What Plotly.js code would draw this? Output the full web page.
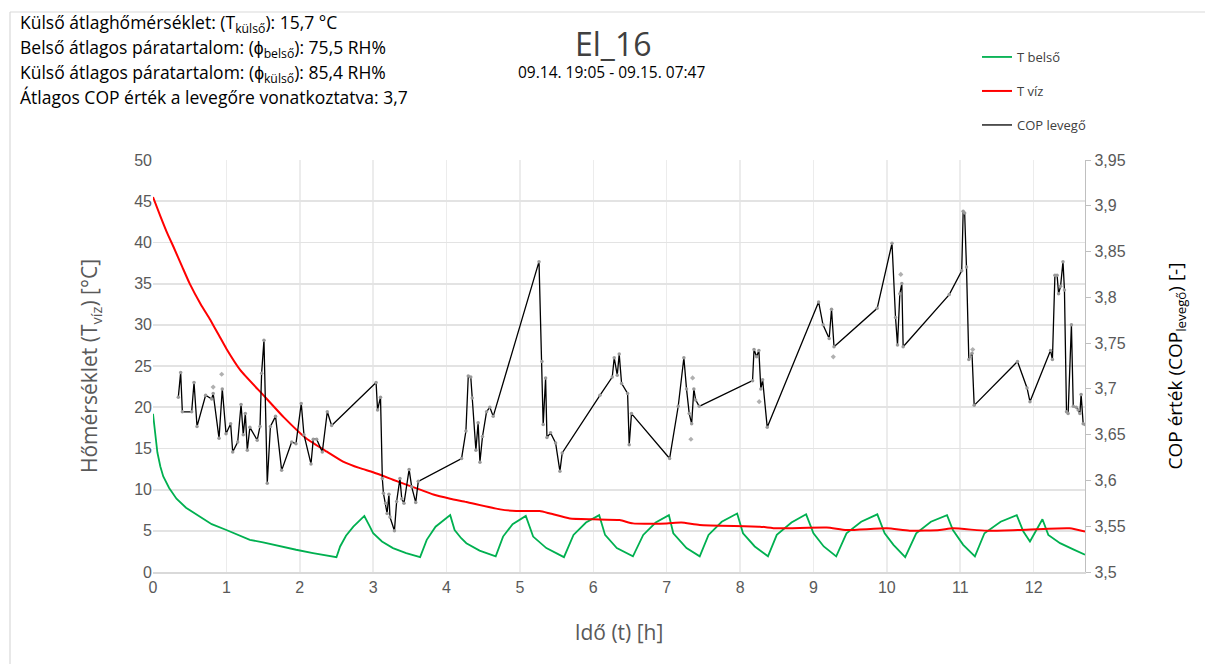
<!DOCTYPE html>
<html>
<head>
<meta charset="utf-8">
<script src="https://cdn.plot.ly/plotly-3.0.1.min.js"></script>
<style>html,body{margin:0;padding:0;background:#fff;}#chart{width:1205px;height:664px;}</style>
</head>
<body>
<div id="chart"></div>
<script>
// ---- data ----
const tBelsoX = [0,0.02,0.04,0.06,0.1,0.14,0.22,0.32,0.45,0.64,0.8,1.0,1.15,1.32,1.5,1.73,1.95,2.18,2.5,2.55,2.63,2.73,2.88,2.95,3.0,3.12,3.27,3.45,3.64,3.73,3.85,4.05,4.11,4.2,4.27,4.45,4.67,4.77,4.9,5.08,5.18,5.36,5.6,5.73,5.9,6.08,6.16,6.32,6.54,6.68,6.85,7.03,7.09,7.27,7.45,7.57,7.75,7.96,8.04,8.2,8.38,8.5,8.7,8.9,9.0,9.14,9.31,9.45,9.65,9.87,9.97,10.09,10.25,10.4,10.6,10.82,10.9,11.04,11.2,11.33,11.55,11.77,11.86,11.95,12.05,12.12,12.2,12.36,12.54,12.7];
const tBelsoY = [19.2,17.4,15.8,14.5,12.8,11.6,10.2,8.9,7.8,6.7,5.8,5.1,4.5,3.9,3.6,3.1,2.7,2.3,1.8,3.1,4.4,5.5,6.8,5.6,4.7,3.7,2.9,2.3,1.8,3.9,5.5,6.9,5.1,4.1,3.5,2.6,1.9,4.3,5.8,6.8,4.3,2.9,1.8,4.5,6.0,6.9,4.5,2.9,1.9,4.5,6.0,6.9,4.7,2.9,1.9,4.5,6.1,7.1,4.7,3.1,1.9,4.5,6.0,7.0,4.7,3.1,1.9,4.7,6.1,7.0,4.7,3.3,1.8,4.7,6.1,6.9,5.1,3.3,1.9,4.7,6.1,6.9,4.9,3.7,5.3,6.4,4.5,3.5,2.75,2.1];

const tVizX = [0,0.1,0.2,0.277,0.4,0.5,0.65,0.78,0.9,1.0,1.19,1.5,1.78,2.09,2.37,2.59,2.82,3.0,3.27,3.45,3.64,3.82,4.05,4.27,4.73,4.95,5.27,5.41,5.68,6.0,6.36,6.54,7.0,7.2,7.45,8.27,8.5,9.18,9.45,10.0,10.31,10.72,10.9,11.36,11.8,12.49,12.7];
const tVizY = [45.5,43.2,41.0,39.5,37.0,35.0,32.5,30.6,28.7,27.1,24.5,21.5,18.8,16.2,14.6,13.4,12.6,12.1,11.2,10.6,10.0,9.4,8.9,8.5,7.6,7.4,7.4,7.1,6.5,6.4,6.3,5.9,5.9,6.0,5.7,5.5,5.3,5.4,5.1,5.3,5.0,5.1,5.3,5.0,5.1,5.3,4.9];

const copX = [0.345,0.377,0.40,0.527,0.559,0.60,0.717,0.80,0.82,0.90,0.944,0.995,1.058,1.086,1.154,1.20,1.23,1.258,1.285,1.32,1.42,1.458,1.48,1.512,1.557,1.60,1.67,1.753,1.89,1.948,2.02,2.057,2.153,2.184,2.23,2.307,2.375,2.434,3.04,3.06,3.10,3.125,3.14,3.17,3.19,3.215,3.229,3.29,3.32,3.365,3.39,3.42,3.49,3.525,3.58,3.615,4.205,4.264,4.296,4.33,4.35,4.40,4.43,4.455,4.49,4.545,4.59,4.636,5.26,5.30,5.317,5.35,5.368,5.418,5.486,5.545,5.576,6.09,6.258,6.285,6.326,6.353,6.385,6.467,6.489,6.52,7.04,7.157,7.234,7.27,7.307,7.34,7.37,7.394,7.443,8.17,8.19,8.225,8.256,8.283,8.307,8.37,9.07,9.13,9.214,9.246,9.28,9.868,10.07,10.118,10.145,10.177,10.204,10.222,10.85,11.02,11.04,11.06,11.085,11.117,11.14,11.16,11.19,11.78,11.91,11.95,12.23,12.256,12.29,12.32,12.34,12.367,12.40,12.42,12.448,12.47,12.515,12.54,12.58,12.607,12.63,12.647,12.675,12.70];
const copY = [3.691,3.718,3.675,3.675,3.707,3.659,3.693,3.689,3.695,3.646,3.700,3.651,3.662,3.631,3.642,3.683,3.650,3.673,3.633,3.658,3.644,3.659,3.717,3.753,3.597,3.659,3.670,3.611,3.642,3.640,3.684,3.650,3.618,3.645,3.645,3.631,3.675,3.660,3.707,3.677,3.691,3.602,3.586,3.575,3.564,3.585,3.560,3.545,3.577,3.602,3.580,3.575,3.612,3.593,3.576,3.599,3.624,3.654,3.714,3.713,3.690,3.633,3.663,3.620,3.648,3.675,3.680,3.670,3.839,3.730,3.661,3.712,3.647,3.652,3.641,3.610,3.630,3.693,3.713,3.734,3.715,3.738,3.706,3.695,3.639,3.673,3.624,3.681,3.734,3.700,3.673,3.662,3.700,3.688,3.681,3.709,3.743,3.735,3.742,3.700,3.710,3.658,3.795,3.770,3.755,3.787,3.746,3.788,3.859,3.778,3.748,3.804,3.815,3.746,3.803,3.829,3.894,3.892,3.833,3.732,3.735,3.739,3.682,3.730,3.701,3.686,3.742,3.732,3.824,3.824,3.804,3.812,3.839,3.808,3.675,3.673,3.770,3.681,3.680,3.677,3.673,3.694,3.662,3.661];

const copOutX = [0.936,0.82,7.353,7.33,8.26,9.27,10.19,11.17];
const copOutY = [3.716,3.702,3.712,3.645,3.686,3.735,3.825,3.743];

const infoLines = [
  'Külső átlaghőmérséklet: (T<sub>külső</sub>): 15,7 °C',
  'Belső átlagos páratartalom: (ϕ<sub>belső</sub>): 75,5 RH%',
  'Külső átlagos páratartalom: (ϕ<sub>külső</sub>): 85,4 RH%',
  'Átlagos COP érték a levegőre vonatkoztatva: 3,7'
];
const titleText = 'El_16';
const subtitleText = '09.14. 19:05 - 09.15. 07:47';

// ---- layout helpers (pixel -> paper) ----
const W = 1205, H = 664;
const L = 153, R = 1085, T = 160, B = 572;
const px = x => (x - L) / (R - L);
const py = y => (B - y) / (B - T);

const traces = [
  {x: tBelsoX, y: tBelsoY, name: 'T belső', mode: 'lines', line: {color: '#00B050', width: 1.8}, legend: 'legend'},
  {x: tVizX, y: tVizY, name: 'T víz', mode: 'lines', line: {color: '#FF0000', width: 2, shape: 'spline', smoothing: 0.5}, legend: 'legend2'},
  {x: copOutX, y: copOutY, mode: 'markers', yaxis: 'y2', showlegend: false, marker: {color: '#b0b0b0', size: 4, symbol: 'diamond'}},
  {x: copX, y: copY, name: 'COP levegő', mode: 'lines', yaxis: 'y2', line: {color: '#000000', width: 1.3}, legend: 'legend3'},
  {x: copX, y: copY, mode: 'markers', yaxis: 'y2', showlegend: false, marker: {color: '#9a9a9a', size: 3.5}}
];

const legendBase = {xanchor: 'left', yanchor: 'middle', bgcolor: 'rgba(0,0,0,0)', itemwidth: 30,
  font: {family: 'Open Sans, sans-serif', size: 13, color: '#404040'}};

const annotations = infoLines.map((t, i) => ({
  text: t, xref: 'paper', yref: 'paper', x: px(18), y: py(24 + i * 24.5), xanchor: 'left', yanchor: 'middle',
  showarrow: false, font: {family: 'Open Sans, sans-serif', size: 17.5, color: '#000'}
}));
annotations.push({text: titleText, xref: 'paper', yref: 'paper', x: px(613), y: py(43), xanchor: 'center', yanchor: 'middle', showarrow: false,
  font: {family: 'Open Sans, sans-serif', size: 32, color: '#404040'}});
annotations.push({text: subtitleText, xref: 'paper', yref: 'paper', x: px(611), y: py(72), xanchor: 'center', yanchor: 'middle', showarrow: false,
  font: {family: 'Open Sans, sans-serif', size: 15.5, color: '#000'}});

const layout = {
  width: W, height: H,
  margin: {l: L, r: W - R, t: T, b: H - B},
  paper_bgcolor: '#fff', plot_bgcolor: '#fff',
  separators: ', ',
  showlegend: true,
  font: {family: 'Liberation Sans, Arial, sans-serif', color: '#595959'},
  xaxis: {range: [0, 12.7], dtick: 1, tick0: 0, showgrid: true, gridcolor: '#ececec', gridwidth: 1.5,
    zeroline: false, showline: true, linecolor: '#d9d9d9', linewidth: 1.5, ticks: '',
    tickfont: {size: 16, color: '#595959'},
    title: {text: 'Idő (t) [h]', font: {family: 'Open Sans, sans-serif', size: 21, color: '#595959'}, standoff: 30}},
  yaxis: {range: [0, 50], dtick: 5, tick0: 0, showgrid: true, gridcolor: '#e3e3e3', gridwidth: 1.8,
    zeroline: false, showline: false, ticks: '', tickfont: {size: 16, color: '#595959'},
    title: {text: 'Hőmérséklet (T<sub>víz</sub>) [°C]', font: {family: 'Open Sans, sans-serif', size: 21, color: '#595959'}, standoff: 30}},
  yaxis2: {range: [3.5, 3.95], dtick: 0.05, tick0: 3.5, overlaying: 'y', side: 'right', showgrid: false,
    zeroline: false, showline: true, linecolor: '#bfbfbf', linewidth: 1.2, ticks: 'outside', ticklen: 5, tickcolor: '#bfbfbf',
    tickfont: {size: 16, color: '#595959'},
    title: {text: 'COP érték (COP<sub>levegő</sub>) [-]', font: {family: 'Open Sans, sans-serif', size: 19, color: '#000'}, standoff: 44}},
  legend: Object.assign({x: px(977), y: py(57)}, legendBase),
  legend2: Object.assign({x: px(977), y: py(91)}, legendBase),
  legend3: Object.assign({x: px(977), y: py(125)}, legendBase),
  annotations: annotations,
  shapes: [
    {type: 'line', xref: 'paper', yref: 'paper', x0: px(10), x1: px(1205), y0: py(12), y1: py(12), line: {color: '#d9d9d9', width: 1.2}},
    {type: 'line', xref: 'paper', yref: 'paper', x0: px(10), x1: px(10), y0: py(12), y1: py(664), line: {color: '#d9d9d9', width: 1.2}}
  ]
};

Plotly.newPlot('chart', traces, layout, {displayModeBar: false, staticPlot: true});
</script>
</body>
</html>
